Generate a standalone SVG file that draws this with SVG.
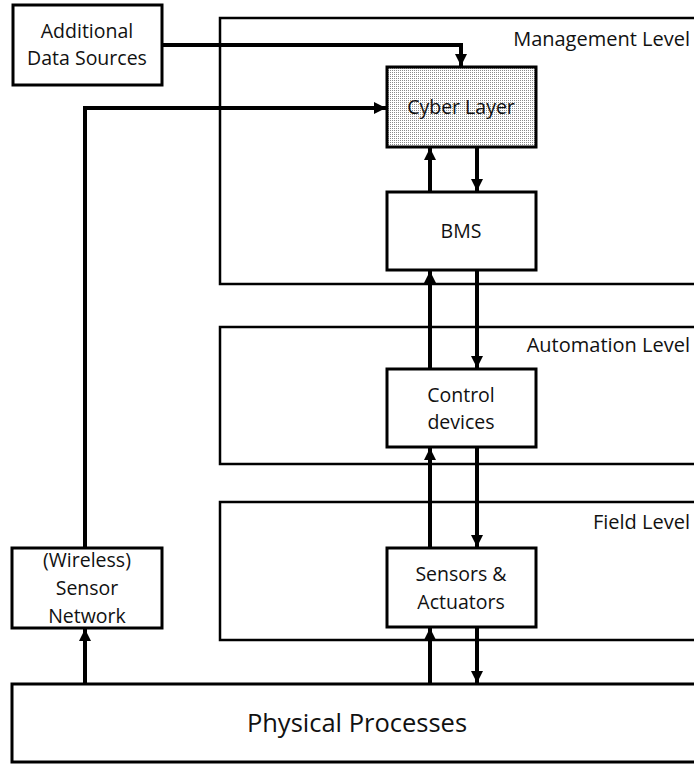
<svg xmlns="http://www.w3.org/2000/svg" width="694" height="765" viewBox="0 0 694 765">
<defs>
<pattern id="dots" width="2" height="2" patternUnits="userSpaceOnUse">
<rect width="2" height="2" fill="#ffffff"/>
<rect width="1" height="1" fill="#8a8a8a"/>
</pattern>
<marker id="ah" viewBox="0 0 10 10" refX="10" refY="5" markerWidth="3" markerHeight="3" markerUnits="strokeWidth" orient="auto">
<path d="M0,0 L10,5 L0,10 Z" fill="#000"/>
</marker>
</defs>
<style>
.frame{fill:none;stroke:#000;stroke-width:2.5}
.box{fill:#fff;stroke:#000;stroke-width:3}
.cyber{fill:url(#dots);stroke:#000;stroke-width:3}
.t{font-family:"Open Sans","Noto Sans",sans-serif;font-size:19.5px;fill:#111;text-anchor:middle}
.lvl{font-family:"Open Sans","Noto Sans",sans-serif;font-size:20px;fill:#111;text-anchor:end}
.big{font-family:"Open Sans","Noto Sans",sans-serif;font-size:25.5px;fill:#111;text-anchor:middle}
.c{fill:none;stroke:#000;stroke-width:4;marker-end:url(#ah)}
</style>
<g id="management-level">
<rect class="frame" x="220" y="18" width="520" height="266"/>
<text class="lvl" x="690" y="46">Management Level</text>
</g>
<g id="automation-level">
<rect class="frame" x="220" y="327" width="520" height="137"/>
<text class="lvl" x="690" y="352">Automation Level</text>
</g>
<g id="field-level">
<rect class="frame" x="220" y="502" width="520" height="138"/>
<text class="lvl" x="690" y="529">Field Level</text>
</g>
<g id="physical-processes">
<rect class="box" x="12" y="684" width="720" height="78"/>
<text class="big" x="357" y="732">Physical Processes</text>
</g>
<g id="connectors">
<path class="c" d="M162,45 H461 V66"/>
<path class="c" d="M85,548 V108 H386"/>
<path class="c" d="M85,684 V629"/>
<path class="c" d="M430,192 V148"/>
<path class="c" d="M477,147 V191"/>
<path class="c" d="M430,369 V271"/>
<path class="c" d="M477,270 V368"/>
<path class="c" d="M430,548 V448"/>
<path class="c" d="M477,447 V547"/>
<path class="c" d="M430,684 V628"/>
<path class="c" d="M477,627 V683"/>
</g>
<g id="additional-data-sources">
<rect class="box" x="13" y="5" width="149" height="80"/>
<text class="t" x="87" y="38">Additional</text>
<text class="t" x="87" y="65">Data Sources</text>
</g>
<g id="cyber-layer">
<rect class="cyber" x="387" y="67" width="149" height="80"/>
<text class="t" x="461" y="114">Cyber Layer</text>
</g>
<g id="bms">
<rect class="box" x="387" y="192" width="149" height="78"/>
<text class="t" x="461" y="238">BMS</text>
</g>
<g id="control-devices">
<rect class="box" x="387" y="369" width="149" height="78"/>
<text class="t" x="461" y="402">Control</text>
<text class="t" x="461" y="429">devices</text>
</g>
<g id="sensors-actuators">
<rect class="box" x="387" y="548" width="149" height="79"/>
<text class="t" x="461" y="581">Sensors &amp;</text>
<text class="t" x="461" y="609">Actuators</text>
</g>
<g id="wireless-sensor-network">
<rect class="box" x="12" y="548" width="150" height="80"/>
<text class="t" x="87" y="567">(Wireless)</text>
<text class="t" x="87" y="595">Sensor</text>
<text class="t" x="87" y="623">Network</text>
</g>
</svg>
